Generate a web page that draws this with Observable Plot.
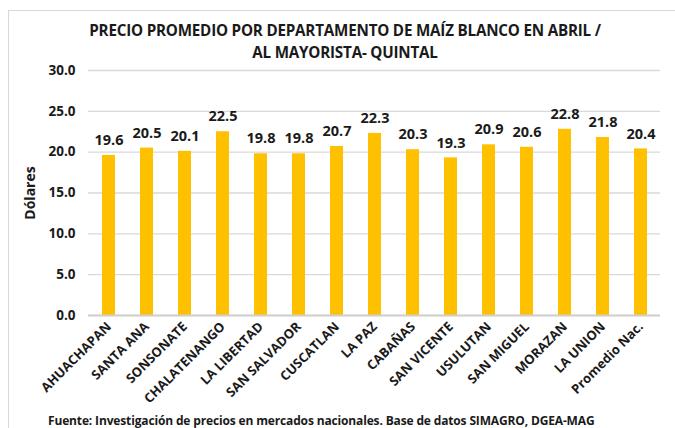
<!DOCTYPE html>
<html>
<head>
<meta charset="utf-8">
<script src="https://cdn.jsdelivr.net/npm/d3@7"></script>
<script src="https://cdn.jsdelivr.net/npm/@observablehq/plot@0.6"></script>
<style>
  html, body { margin: 0; padding: 0; background: #fff; }
  body { width: 675px; height: 428px; overflow: hidden; position: relative; font-family: "Open Sans", "Liberation Sans", sans-serif; }
  #frame { position: absolute; left: 8px; top: 10px; width: 720px; height: 440px; border: 1px solid #d9d9d9; box-sizing: border-box; }
  #title { position: absolute; left: 0; top: 0; width: 690px; height: 62px; text-align: center; font-weight: 700; font-size: 15.2px; line-height: 22px; color: #1a1a1a; padding-top: 19px; box-sizing: border-box; letter-spacing: -0.2px; }
  #chart { position: absolute; left: 0; top: 62px; }
  #footer { position: absolute; left: 48px; top: 412px; font-weight: 700; font-size: 12px; color: #1a1a1a; white-space: nowrap; letter-spacing: -0.15px; background: #fff; }
</style>
</head>
<body>
<div id="frame"></div>
<div id="title">PRECIO PROMEDIO POR DEPARTAMENTO DE MAÍZ BLANCO EN ABRIL /<br>AL MAYORISTA- QUINTAL</div>
<div id="chart"></div>
<div id="footer">Fuente: Investigación de precios en mercados nacionales. Base de datos SIMAGRO, DGEA-MAG</div>
<script>
const departamentos = ["AHUACHAPAN","SANTA ANA","SONSONATE","CHALATENANGO","LA LIBERTAD","SAN SALVADOR","CUSCATLAN","LA PAZ","CABAÑAS","SAN VICENTE","USULUTAN","SAN MIGUEL","MORAZAN","LA UNION","Promedio Nac."];
const precios = [19.6,20.5,20.1,22.5,19.8,19.8,20.7,22.3,20.3,19.3,20.9,20.6,22.8,21.8,20.4];
const yTicks = [0,5,10,15,20,25,30];
const yLabel = "Dólares";

const data = departamentos.map((d, i) => ({depto: d, precio: precios[i]}));

const chart = Plot.plot({
  width: 675,
  height: 366,
  marginTop: 8,
  marginBottom: 113,
  marginLeft: 88,
  marginRight: 15,
  style: {fontFamily: "'Open Sans', 'Liberation Sans', sans-serif", fontWeight: 700, color: "#1a1a1a", background: "transparent"},
  x: {domain: departamentos, paddingInner: 0.66, paddingOuter: 0.33, label: null},
  y: {domain: [0, 30], label: null},
  marks: [
    Plot.gridY(yTicks, {stroke: "#d9d9d9", strokeOpacity: 1, strokeWidth: 1.3}),
    Plot.barY(data, {x: "depto", y: "precio", fill: "#FFC000"}),
    Plot.ruleY([0], {stroke: "#d0d0d0", strokeWidth: 2}),
    Plot.text(data, {x: "depto", y: "precio", text: d => d.precio.toFixed(1), dy: -15, fontSize: 14.5, fontWeight: 700, fill: "#1a1a1a"}),
    Plot.axisY(yTicks, {tickSize: 0, tickPadding: 13, tickFormat: d => d.toFixed(1), fontSize: 13.5, fontWeight: 700, label: null}),
    Plot.text([yLabel], {y: () => 15, frameAnchor: "left", textAnchor: "middle", rotate: -90, dx: -58, fontSize: 14, fontWeight: 700, fill: "#1a1a1a"}),
    Plot.axisX({tickSize: 0, tickRotate: -45, tickPadding: 9, fontSize: 13, fontWeight: 700, label: null})
  ]
});
document.getElementById("chart").appendChild(chart);
</script>
</body>
</html>
